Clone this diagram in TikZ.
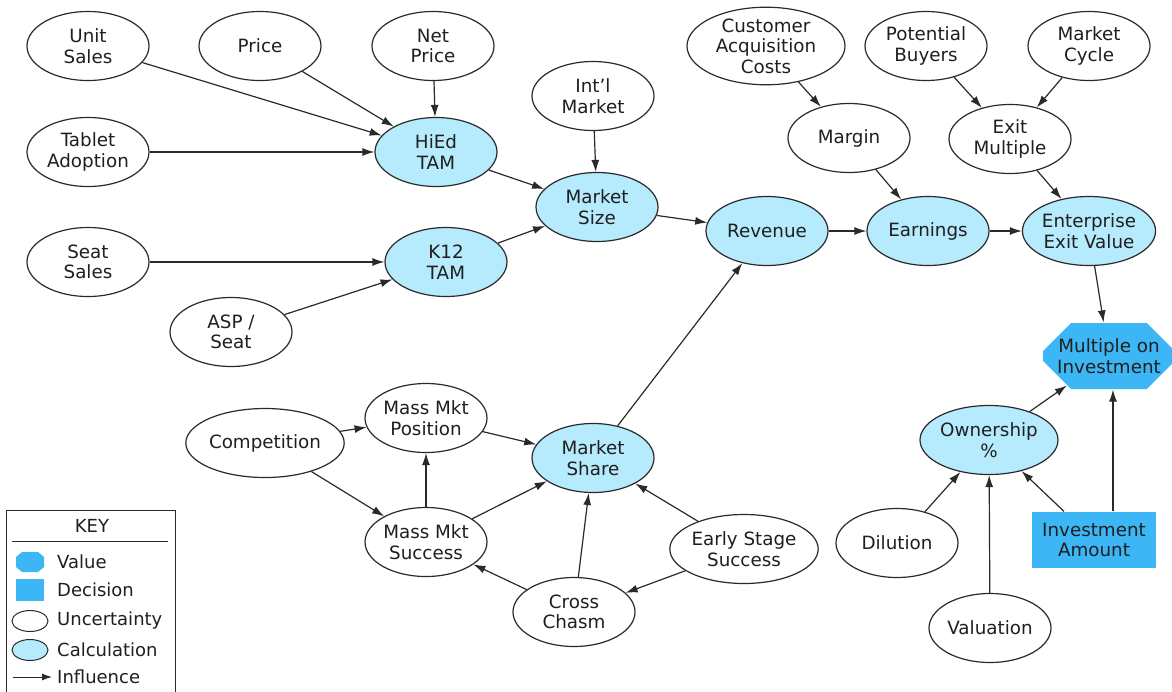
\documentclass[tikz,border=0pt]{standalone}
\usepackage{fontspec}
\setmainfont{DejaVu Sans}
\usetikzlibrary{shapes.geometric,shapes.misc,arrows.meta}
\definecolor{calcfill}{HTML}{B6EAFD}
\definecolor{valfill}{HTML}{3DB6F5}
\definecolor{edgecol}{HTML}{2A2A2A}
\tikzset{
  base/.style={draw=edgecol, line width=1.2pt, inner sep=0pt, align=center,
    font=\fontsize{18.3}{20.5}\selectfont, text=black!88},
  unc/.style={base, ellipse, fill=white, minimum width=122pt, minimum height=69pt},
  calc/.style={base, ellipse, fill=calcfill, minimum width=122pt, minimum height=69pt},
  value/.style={base, draw=none, fill=valfill, chamfered rectangle,
    chamfered rectangle xsep=14pt, chamfered rectangle ysep=14pt,
    minimum width=124pt, minimum height=66pt},
  decision/.style={base, draw=none, fill=valfill, rectangle,
    minimum width=124pt, minimum height=56pt},
  infl/.style={draw=edgecol, line width=1.2pt, -{Latex[length=12pt,width=8pt]}},
  keytext/.style={font=\fontsize{18}{20}\selectfont, text=black!88, anchor=west, inner sep=0pt},
}
\begin{document}
\begin{tikzpicture}[x=1pt, y=-1pt]
\useasboundingbox (0,0) rectangle (1172,691);

% ---- market size branch ----
\node[unc]  (unit)    at (88,46)   {Unit\\Sales};
\node[unc]  (price)   at (260,46)  {Price};
\node[unc]  (net)     at (433,46)  {Net\\Price};
\node[unc]  (tablet)  at (88,152)  {Tablet\\Adoption};
\node[calc] (hied)    at (436,152) {HiEd\\TAM};
\node[unc]  (intl)    at (593,96)  {Int’l\\Market};
\node[calc] (msize)   at (597,207) {Market\\Size};
\node[unc]  (seat)    at (88,262)  {Seat\\Sales};
\node[calc] (k12)     at (446,262) {K12\\TAM};
\node[unc]  (asp)     at (231,332) {ASP /\\Seat};

% ---- revenue to exit value ----
\node[calc] (rev)     at (767,231) {Revenue};
\node[unc, minimum width=158pt, minimum height=72pt] (cac) at (766,46) {Customer\\Acquisition\\Costs};
\node[unc]  (margin)  at (849,138) {Margin};
\node[unc]  (buyers)  at (926,46)  {Potential\\Buyers};
\node[unc]  (cycle)   at (1089,46) {Market\\Cycle};
\node[unc]  (exitm)   at (1010,139) {Exit\\Multiple};
\node[calc] (earn)    at (928,231) {Earnings};
\node[calc] (eev)     at (1089,231) {Enterprise\\Exit Value};

% ---- investment return ----
\node[value]    (moi)  at (1109,356) {Multiple on\\Investment};
\node[decision] (inv)  at (1094,540) {Investment\\Amount};
\node[calc]     (own)  at (989,440)  {Ownership\\\%};
\node[unc]      (dil)  at (897,543)  {Dilution};
\node[unc]      (val)  at (990,628)  {Valuation};

% ---- market share branch ----
\node[unc, minimum width=134pt] (comp) at (265,443) {Competition};
\node[unc]  (mpos)   at (426,418) {Mass Mkt\\Position};
\node[calc] (mshare) at (593,458) {Market\\Share};
\node[unc]  (msucc)  at (426,542) {Mass Mkt\\Success};
\node[unc]  (early)  at (744,549) {Early Stage\\Success};
\node[unc]  (chasm)  at (574,612) {Cross\\Chasm};

% ---- influences ----
\draw[infl] (unit) -- (hied);
\draw[infl] (price) -- (hied);
\draw[infl] (net) -- (hied);
\draw[infl] (tablet) -- (hied);
\draw[infl] (hied) -- (msize);
\draw[infl] (intl) -- (msize);
\draw[infl] (seat) -- (k12);
\draw[infl] (asp) -- (k12);
\draw[infl] (k12) -- (msize);
\draw[infl] (msize) -- (rev);
\draw[infl] (mshare) -- (rev);
\draw[infl] (rev) -- (earn);
\draw[infl] (margin) -- (earn);
\draw[infl] (cac) -- (margin);
\draw[infl] (earn) -- (eev);
\draw[infl] (buyers) -- (exitm);
\draw[infl] (cycle) -- (exitm);
\draw[infl] (exitm) -- (eev);
\draw[infl] (eev) -- (moi);
\draw[infl] (own) -- (moi);
\draw[infl] (inv.north -| 1113,0) -- (moi.south -| 1113,0);
\draw[infl] (inv) -- (own);
\draw[infl] (dil) -- (own);
\draw[infl] (val) -- (own);
\draw[infl] (comp) -- (mpos);
\draw[infl] (comp) -- (msucc);
\draw[infl] (msucc) -- (mpos);
\draw[infl] (mpos) -- (mshare);
\draw[infl] (msucc) -- (mshare);
\draw[infl] (chasm) -- (mshare);
\draw[infl] (chasm) -- (msucc);
\draw[infl] (early) -- (mshare);
\draw[infl] (early) -- (chasm);

% ---- key ----
\draw[edgecol, line width=1pt] (6,695) -- (6,510) -- (175,510) -- (175,695);
\node[font=\fontsize{18}{20}\selectfont, text=black!88] (keyhead) at (92,526) {KEY};
\draw[edgecol, line width=1pt] (12,541) -- (168,541);
% octagon swatch for "Value"
\fill[valfill] (22,552) -- (38,552) -- (44,557) -- (44,567) -- (38,572)
  -- (22,572) -- (16,567) -- (16,557) -- cycle;
\node[keytext] (kvalt) at (57,562) {Value};
\node[fill=valfill, minimum width=28pt, minimum height=22pt, inner sep=0pt] (kdec) at (30,590) {};
\node[keytext] (kdect) at (57,590) {Decision};
\node[draw=edgecol, line width=1pt, ellipse, fill=white, minimum width=36pt, minimum height=21pt, inner sep=0pt] (kunc) at (30,621) {};
\node[keytext] (kunct) at (57,621) {Uncertainty};
\node[draw=edgecol, line width=1pt, ellipse, fill=calcfill, minimum width=36pt, minimum height=21pt, inner sep=0pt] (kcalc) at (30,650) {};
\node[keytext] (kcalct) at (57,650) {Calculation};
\coordinate (kinfa) at (13,677);
\coordinate (kinfb) at (52,677);
\draw[edgecol, line width=1pt, -{Latex[length=10pt,width=7pt]}] (kinfa) -- (kinfb);
\node[keytext] (kinft) at (57,677) {Influence};
\end{tikzpicture}
\end{document}
